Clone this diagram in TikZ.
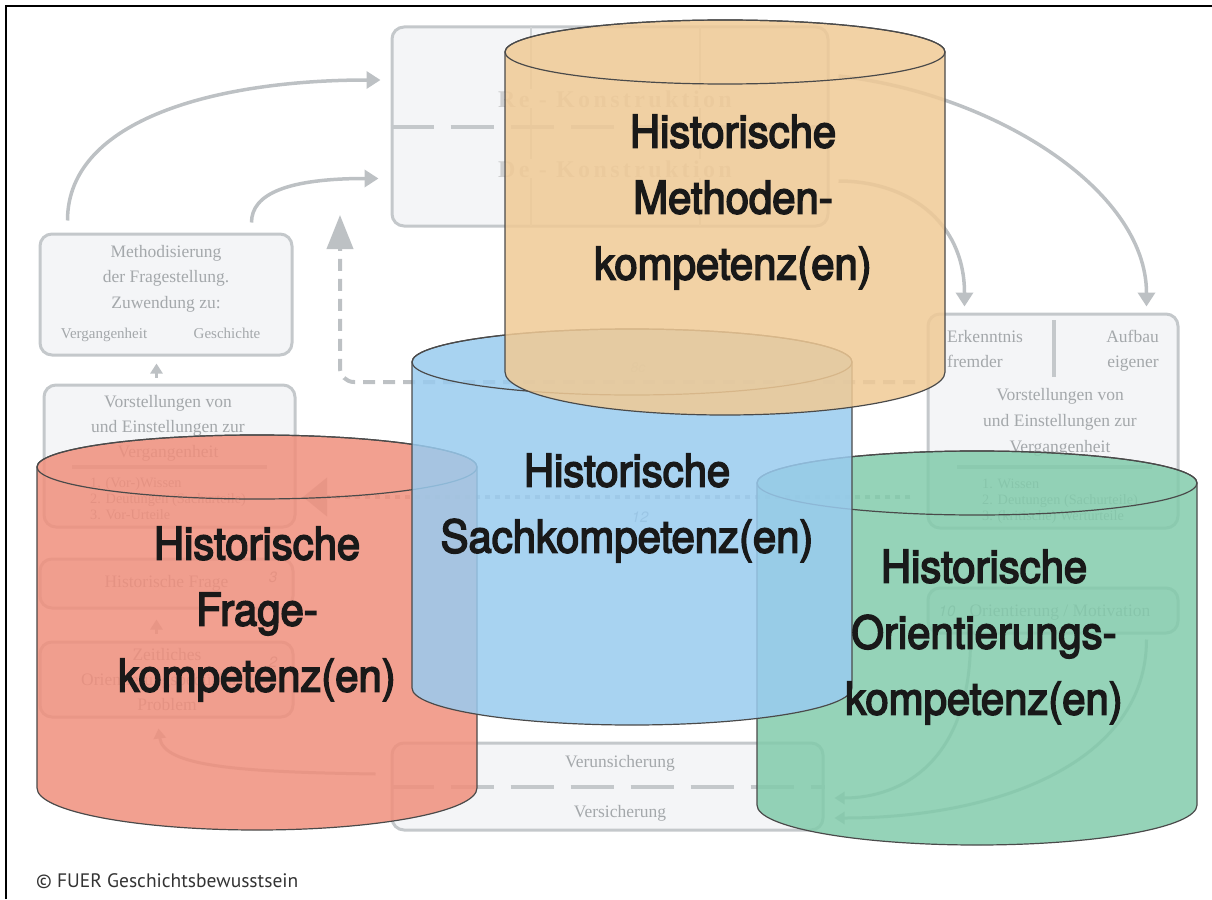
\documentclass[tikz,border=0pt]{standalone}
\usepackage{fontspec}
\setmainfont{Liberation Serif}
\newfontfamily\cylfont[FakeBold=3.5,FakeStretch=0.93]{TeX Gyre Heros}
\newfontfamily\numfont{TeX Gyre Heros}
\newfontfamily\credfont{PT Sans}
\newfontfamily\spacedfont[LetterSpace=14]{Liberation Serif}
\usetikzlibrary{arrows.meta,calc}

\definecolor{boxfill}{HTML}{F4F5F7}
\definecolor{boxline}{HTML}{C4C8CB}
\definecolor{boxtext}{HTML}{A4A8AB}
\definecolor{konstrgray}{HTML}{CFD0D1}
\definecolor{flowgray}{HTML}{BDC1C4}
\definecolor{cylred}{RGB}{240,143,124}
\definecolor{cylblue}{RGB}{153,203,239}
\definecolor{cylgreen}{RGB}{130,203,171}
\definecolor{cylorange}{RGB}{240,202,149}
\definecolor{cyledge}{HTML}{4A4A4A}

\begin{document}
\begin{tikzpicture}[x=1pt,y=-1pt,
	bgbox/.style={draw=boxline,fill=boxfill,line width=3pt,rounded corners=12pt,inner sep=0pt},
	bgtext/.style={text=boxtext,inner sep=0pt,font=\fontsize{17.5}{25}\selectfont},
	listtext/.style={text=boxtext,inner sep=0pt,anchor=base west,font=\fontsize{14.3}{16}\selectfont},
	numtext/.style={text=boxtext,inner sep=0pt,anchor=base,font=\numfont\itshape\fontsize{15}{15}\selectfont},
	konstrtext/.style={text=konstrgray,fill=boxfill,inner sep=1pt,anchor=base,font=\spacedfont\bfseries\fontsize{24}{24}\selectfont},
	boxdash/.style={draw=boxline,line width=4pt,dash pattern=on 43pt off 17pt},
	thinrule/.style={draw=boxline!80,line width=1.5pt},
	listrule/.style={draw=boxline,line width=4pt},
	flow/.style={draw=flowgray,line width=3.5pt,-{Triangle[length=14pt,width=17pt]}},
	smallflow/.style={draw=flowgray,line width=3pt,-{Triangle[length=10pt,width=12pt]}},
	cylshape/.style={draw=cyledge,line width=1.2pt,fill opacity=0.85},
	cyltext/.style={text=black!90,align=center,inner sep=0pt,font=\cylfont\fontsize{45}{66}\selectfont}]
	\useasboundingbox (0,0) rectangle (1212,899);
	\draw[line width=2pt] (6,899) -- (6,6) -- (1212,6);

	% Re- / De-Konstruktion
	\node[bgbox,minimum width=436pt,minimum height=199pt] (konstr) at (610,126.5) {};
	\draw[thinrule] (531,27) -- (531,226);
	\draw[thinrule] (700,27) -- (700,226);
	\draw[boxdash] (konstr.west) -- (konstr.east);
	\node[konstrtext] (re) at (615,107) {Re - Konstruktion};
	\node[konstrtext] (de) at (615,177) {De - Konstruktion};

	% left column
	\node[bgbox,minimum width=252pt,minimum height=121pt] (methbox) at (166,294.5) {};
	\foreach \txt [count=\i] in {Methodisierung,der Fragestellung.,Zuwendung zu:}
		\node[bgtext,anchor=base] (meth\i) at (166,{231.5+25.5*\i}) {\txt};
	\node[bgtext,anchor=base,font=\fontsize{15}{15}\selectfont] (vergl) at (104,338) {Vergangenheit};
	\node[bgtext,anchor=base,font=\fontsize{15}{15}\selectfont] (gesch) at (227,338) {Geschichte};

	\node[bgbox,minimum width=251pt,minimum height=142pt] (vorstl) at (169.5,456) {};
	\foreach \txt [count=\i] in {Vorstellungen von,und Einstellungen zur,Vergangenheit}
		\node[bgtext,anchor=base] (vl\i) at (168,{382+25*\i}) {\txt};
	\draw[listrule] (72,467) -- (267,467);
	\foreach \txt [count=\i] in {1. (Vor-)Wissen,2. Deutungen (Sachurteile),3. Vor-Urteile}
		\node[listtext] (ll\i) at (90,{471+16*\i}) {\txt};

	\node[bgbox,bgtext,minimum width=253pt,minimum height=49pt] (frage) at (166.5,583.5) {Historische Frage};
	\node[numtext] (n3) at (273,582) {3};
	\node[bgbox,minimum width=253pt,minimum height=75pt] (zeit) at (166.5,679.5) {};
	\foreach \txt [count=\i] in {Zeitliches,Orientierungsbedürfnis /,Problem}
		\node[bgtext,anchor=base] (zl\i) at (167,{635+25*\i}) {\txt};
	\node[numtext] (n2) at (273,667) {2};

	% right column
	\node[bgbox,minimum width=250pt,minimum height=214pt] (rightbox) at (1053,421) {};
	\node[bgtext,anchor=base west] (erk1) at (947,342) {Erkenntnis};
	\node[bgtext,anchor=base west] (erk2) at (947,367) {fremder};
	\node[bgtext,anchor=base east] (auf1) at (1159,342) {Aufbau};
	\node[bgtext,anchor=base east] (auf2) at (1159,367) {eigener};
	\draw[listrule] (1054,320) -- (1054,377);
	\foreach \txt [count=\i] in {Vorstellungen von,und Einstellungen zur,Vergangenheit}
		\node[bgtext,anchor=base] (vr\i) at (1060,{374+26*\i}) {\txt};
	\draw[listrule] (957,467) -- (1152,467);
	\foreach \txt [count=\i] in {1. Wissen,2. Deutungen (Sachurteile),3. (kritische) Werturteile}
		\node[listtext] (lr\i) at (982,{472+16*\i}) {\txt};

	\node[bgbox,minimum width=250pt,minimum height=45pt] (orient) at (1053,610.5) {};
	\node[numtext] (n10) at (947,616) {10};
	\node[bgtext,anchor=base] (orienttxt) at (1060,616) {Orientierung / Motivation};

	% bottom
	\node[bgbox,minimum width=431pt,minimum height=87pt] (sicher) at (607.5,786.5) {};
	\draw[boxdash] (sicher.west) -- (sicher.east);
	\node[bgtext,anchor=base] (unsich) at (620,767) {Verunsicherung};
	\node[bgtext,anchor=base] (versich) at (620,817) {Versicherung};

	% flows
	\draw[flow] ($(methbox.north west)+(29,-12)$) .. controls +(0,-102) and +(-162,0) .. ($(konstr.north west)+(-10,54.5)$);
	\draw[flow] ($(methbox.north west)+(213,-10)$) .. controls +(0,-29) and +(-90,0) .. ($(konstr.north west)+(-12,153)$);
	\draw[flow] ($(konstr.north east)+(9,50.5)$) .. controls +(153,17) and +(0,-118) .. ($(rightbox.north east)+(-33,-6)$);
	\draw[flow] ($(konstr.north east)+(9,155.5)$) .. controls +(68,0) and +(0,-86) .. ($(rightbox.north west)+(38,-6)$);
	\draw[smallflow] ($(vorstl.north west)+(114,-6)$) -- ($(methbox.south west)+(118,7)$);
	\draw[smallflow] ($(zeit.north west)+(118,-7)$) -- ($(frage.south west)+(118,10)$);
	\draw[smallflow] ($(sicher.west)+(-15,-12.5)$) .. controls +(-137,-2) and +(5,38) .. ($(zeit.south west)+(120,10)$);
	\draw[smallflow] ($(orient.south west)+(44,5)$) .. controls +(0,122) and +(67,0) .. ($(sicher.east)+(10,11.5)$);
	\draw[smallflow] ($(orient.south east)+(-33,5)$) .. controls +(0,122) and +(165,0) .. ($(sicher.east)+(10,31.5)$);

	\coordinate (d8) at (915,382);
	\coordinate (d8tip) at (340,215);
	\draw[draw=flowgray,line width=4pt,dash pattern=on 12pt off 8pt,rounded corners=14pt,-{Triangle[length=34pt,width=26pt]}] (d8) -| (d8tip);
	\node[numtext,font=\numfont\itshape\fontsize{14}{14}\selectfont] (l8c) at (638,372) {8c};
	\coordinate (d12) at (910,497);
	\coordinate (d12tip) at (303,497);
	\draw[draw=flowgray,line width=4pt,dash pattern=on 5pt off 5pt,-{Triangle[length=24pt,width=38pt]}] (d12) -- (d12tip);
	\node[numtext] (l12) at (640,522) {12};

	% cylinders
	\filldraw[cylshape,fill=cylred] (37,467) -- (37,788) arc[start angle=180,end angle=360,x radius=220pt,y radius=42pt] -- (477,467) arc[start angle=0,end angle=180,x radius=220pt,y radius=32pt] -- cycle;
	\draw[cylshape] (257,467) ellipse[x radius=220pt,y radius=32pt];
	\filldraw[cylshape,fill=cylgreen] (757,483) -- (757,805) arc[start angle=180,end angle=360,x radius=220pt,y radius=40pt] -- (1197,483) arc[start angle=0,end angle=180,x radius=220pt,y radius=32pt] -- cycle;
	\draw[cylshape] (977,483) ellipse[x radius=220pt,y radius=32pt];
	\filldraw[cylshape,fill=cylblue] (412,362) -- (412,688) arc[start angle=180,end angle=360,x radius=220pt,y radius=37pt] -- (852,362) arc[start angle=0,end angle=180,x radius=220pt,y radius=33pt] -- cycle;
	\draw[cylshape] (632,362) ellipse[x radius=220pt,y radius=33pt];
	\filldraw[cylshape,fill=cylorange] (505,52) -- (505,372) arc[start angle=180,end angle=360,x radius=220pt,y radius=43pt] -- (945,52) arc[start angle=0,end angle=180,x radius=220pt,y radius=32pt] -- cycle;
	\draw[cylshape] (725,52) ellipse[x radius=220pt,y radius=32pt];

	\node[cyltext] (fragetxt) at (257,614) {Historische\\Frage-\\kompetenz(en)};
	\node[cyltext] (sachtxt) at (627,508) {Historische\\Sachkompetenz(en)};
	\node[cyltext] (orienttxt2) at (984,637) {Historische\\Orientierungs-\\kompetenz(en)};
	\node[cyltext] (methtxt) at (733,202) {Historische\\Methoden-\\kompetenz(en)};

	\node[anchor=base west,inner sep=0pt,text=black!80,font=\credfont\fontsize{19.5}{19.5}\selectfont] (credit) at (36,887) {© FUER Geschichtsbewusstsein};
\end{tikzpicture}
\end{document}
